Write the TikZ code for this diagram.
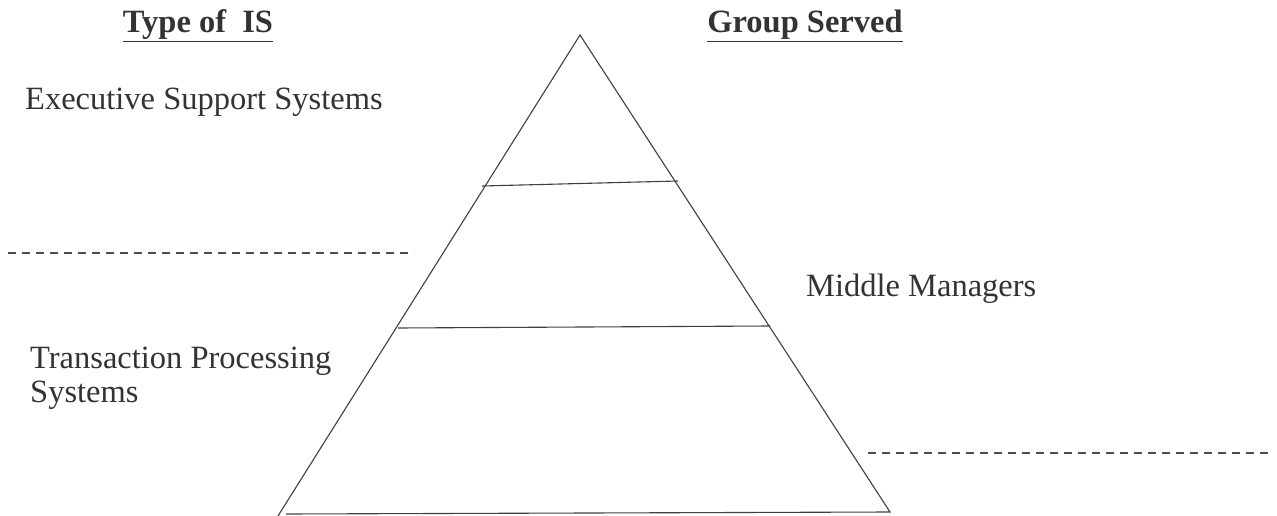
\documentclass[tikz,border=0pt]{standalone}
\usepackage{fontspec}
\setmainfont{Liberation Serif}
\begin{document}
\begin{tikzpicture}[x=1pt,y=-1pt,
  lbl/.style={anchor=base west,inner sep=0pt,font=\fontsize{32.5}{38}\selectfont,text=black!80},
  hdr/.style={anchor=base,inner sep=0pt,font=\fontsize{32.5}{38}\selectfont\bfseries,text=black!80},
  edge/.style={draw=black!75,line width=1.1pt},
  sep/.style={draw=black!70,line width=1.6pt,dash pattern=on 8pt off 6pt}]
\useasboundingbox (0,0) rectangle (1277,516);
% pyramid
\coordinate (apex) at (580,35);
\coordinate (bl) at (278,516);
\coordinate (br) at (890,512);
\coordinate (bb) at (286,514);
\coordinate (l1) at (482,186);
\coordinate (r1) at (678,181);
\coordinate (l2) at (398,328);
\coordinate (r2) at (770,326);
\draw[edge] (bl) -- (apex) -- (br) -- (bb);
\draw[edge] (l1) -- (r1);
\draw[edge] (l2) -- (r2);
% dashed separators
\coordinate (d1a) at (8,253);
\coordinate (d1b) at (414,253);
\coordinate (d2a) at (868,453);
\coordinate (d2b) at (1268,453);
\draw[sep] (d1a) -- (d1b);
\draw[sep] (d2a) -- (d2b);
% headers
\node[hdr] (h1) at (198,33) {\underline{Type of\ \ IS}};
\node[hdr] (h2) at (805,33) {\underline{Group Served}};
% labels
\node[lbl] (ess) at (25,110) {Executive Support Systems};
\node[lbl] (mm) at (806,296) {Middle Managers};
\node[lbl] (tps1) at (30,368) {Transaction Processing};
\node[lbl] (tps2) at (30,402) {Systems};
\end{tikzpicture}
\end{document}
